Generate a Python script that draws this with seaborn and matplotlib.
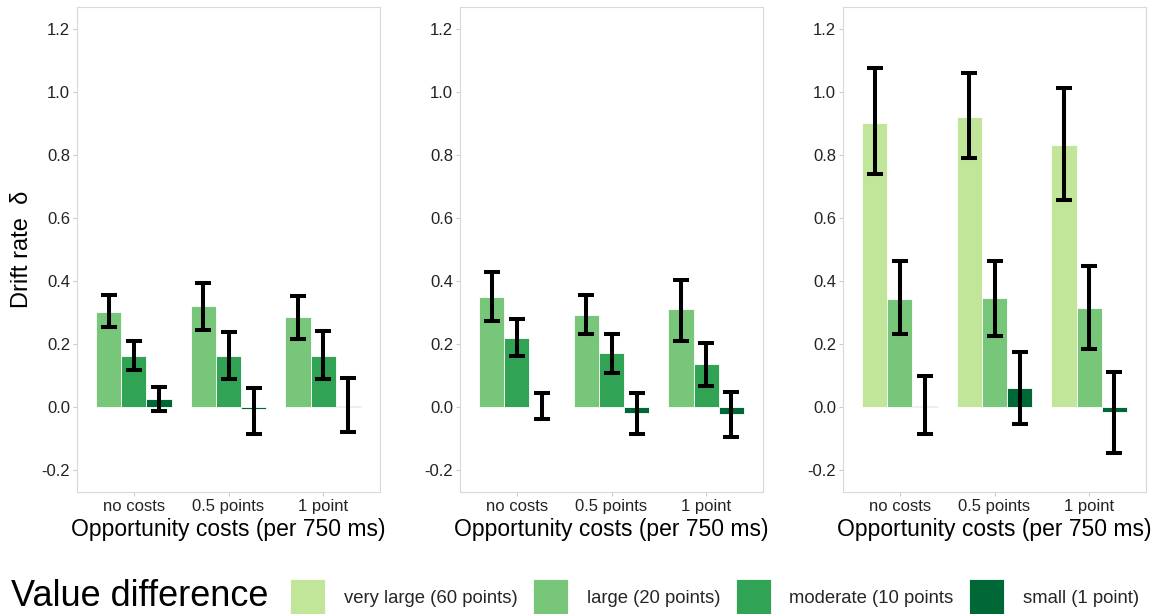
import matplotlib
matplotlib.use("Agg")
import matplotlib.pyplot as plt
from matplotlib.patches import Patch
import numpy as np
import pandas as pd
import seaborn as sns

# Categories
costs = ["no costs", "0.5 points", "1 point"]
levels = ["very large (60 points)", "large (20 points)",
          "moderate (10 points", "small (1 point)"]
level_colors = ["#c2e699", "#78c679", "#31a354", "#006837"]

# Panel 1: estimated drift rates with interval bounds, per value difference
p1_mean = {"large (20 points)": [0.303, 0.320, 0.285],
           "moderate (10 points": [0.163, 0.163, 0.163],
           "small (1 point)": [0.025, -0.005, 0.004]}
p1_lower = {"large (20 points)": [0.253, 0.244, 0.217],
            "moderate (10 points": [0.118, 0.088, 0.089],
            "small (1 point)": [-0.014, -0.085, -0.078]}
p1_upper = {"large (20 points)": [0.355, 0.393, 0.353],
            "moderate (10 points": [0.210, 0.238, 0.240],
            "small (1 point)": [0.062, 0.061, 0.091]}

# Panel 2
p2_mean = {"large (20 points)": [0.349, 0.291, 0.310],
           "moderate (10 points": [0.219, 0.171, 0.137],
           "small (1 point)": [0.001, -0.018, -0.023]}
p2_lower = {"large (20 points)": [0.272, 0.232, 0.210],
            "moderate (10 points": [0.163, 0.109, 0.067],
            "small (1 point)": [-0.037, -0.086, -0.094]}
p2_upper = {"large (20 points)": [0.428, 0.357, 0.404],
            "moderate (10 points": [0.278, 0.232, 0.203],
            "small (1 point)": [0.045, 0.045, 0.046]}

# Panel 3
p3_mean = {"very large (60 points)": [0.902, 0.921, 0.833],
           "large (20 points)": [0.344, 0.345, 0.314],
           "small (1 point)": [0.003, 0.061, -0.015]}
p3_lower = {"very large (60 points)": [0.739, 0.790, 0.656],
            "large (20 points)": [0.233, 0.224, 0.184],
            "small (1 point)": [-0.085, -0.053, -0.147]}
p3_upper = {"very large (60 points)": [1.075, 1.060, 1.014],
            "large (20 points)": [0.464, 0.464, 0.449],
            "small (1 point)": [0.098, 0.174, 0.112]}

y_ticks = [-0.2, 0.0, 0.2, 0.4, 0.6, 0.8, 1.0, 1.2]

sns.set_theme(style="white")
plt.rcParams["font.family"] = ["Liberation Sans", "DejaVu Sans"]

palette = dict(zip(levels, level_colors))

fig = plt.figure(figsize=(11.6, 6.14), dpi=100)
W, H = 1160, 614
panel_lefts = [77, 460, 843]
panel_width = 303
top_px, bottom_px = 7, 492

panels = [(p1_mean, p1_lower, p1_upper),
          (p2_mean, p2_lower, p2_upper),
          (p3_mean, p3_lower, p3_upper)]

for i, (means, lowers, uppers) in enumerate(panels):
    ax = fig.add_axes([panel_lefts[i] / W, 1 - bottom_px / H,
                       panel_width / W, (bottom_px - top_px) / H])
    present = [lv for lv in levels if lv in means]
    rows = []
    for lv in present:
        for c, m, lo, hi in zip(costs, means[lv], lowers[lv], uppers[lv]):
            rows.append({"cost": c, "level": lv, "mean": m, "lo": lo, "hi": hi})
    df = pd.DataFrame(rows)

    sns.barplot(data=df, x="cost", y="mean", hue="level", order=costs,
                hue_order=present, palette=palette, width=0.8,
                saturation=1, errorbar=None, edgecolor="white",
                linewidth=0.6, legend=False, ax=ax)

    for container, lv in zip(ax.containers, present):
        sub = df[df["level"] == lv].set_index("cost").loc[costs]
        xs = [b.get_x() + b.get_width() / 2 for b in container]
        m = sub["mean"].to_numpy()
        yerr = [m - sub["lo"].to_numpy(), sub["hi"].to_numpy() - m]
        ax.errorbar(xs, m, yerr=yerr, fmt="none", ecolor="black",
                    elinewidth=2.9, capsize=5.8, capthick=2.9, zorder=5)

    ax.set_xlim(-0.6, 2.6)
    ax.set_ylim(-0.27, 1.27)
    ax.set_yticks(y_ticks)
    ax.set_yticklabels([f"{t:.1f}" for t in y_ticks])
    ax.tick_params(axis="both", which="major", length=3, width=0.8,
                   color="#cccccc", labelsize=12, labelcolor="#222222",
                   pad=2, left=True, bottom=True)
    for sp in ax.spines.values():
        sp.set_color("#d9d9d9")
        sp.set_linewidth(0.8)
    ax.set_xlabel("Opportunity costs (per 750 ms)", fontsize=16.5,
                  color="black", labelpad=3)
    if i == 0:
        ax.set_ylabel("Drift rate  δ", fontsize=17, color="black", labelpad=6)
    else:
        ax.set_ylabel("")

# Legend along the bottom
handles = [Patch(facecolor=c, edgecolor="white", linewidth=0.6)
           for c in level_colors]
fig.legend(handles, levels, loc="center left",
           bbox_to_anchor=(290 / W, 1 - 597 / H), ncol=4, frameon=False,
           fontsize=13.3, handlelength=1.9, handleheight=2.6,
           handletextpad=1.0, columnspacing=0.85, borderpad=0,
           borderaxespad=0)
fig.text(11 / W, 1 - 596 / H, "Value difference", fontsize=26,
         va="center", ha="left", color="black")

fig.savefig("out.png", dpi=100)
